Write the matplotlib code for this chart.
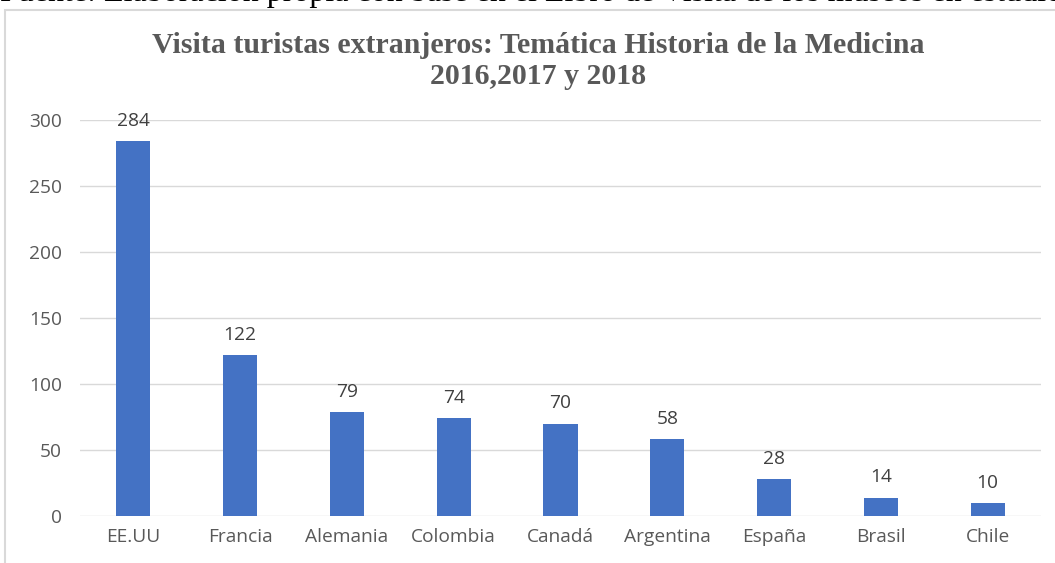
import matplotlib.pyplot as plt
from matplotlib.patches import Rectangle

paises = ["EE.UU", "Francia", "Alemania", "Colombia", "Canadá",
          "Argentina", "España", "Brasil", "Chile"]
visitas = [284, 122, 79, 74, 70, 58, 28, 14, 10]
yticks = [0, 50, 100, 150, 200, 250, 300]

titulo = "Visita turistas extranjeros: Temática Historia de la Medicina\n2016,2017 y 2018"
fuente = "Fuente: Elaboración propia con base en el Libro de Visita de los museos en estudio"

gris = "#595959"
azul = "#4472c4"

fig = plt.figure(figsize=(10.55, 5.63), dpi=100)

# marco del grafico (recortado en la pagina)
fig.patches.append(Rectangle((5 / 1055, -0.05), 1.2, 1 - 10 / 563 + 0.05,
                             transform=fig.transFigure, fill=False,
                             edgecolor="#d9d9d9", linewidth=1.5))

# texto de la pagina cortado arriba
fig.text(0.0, 1 - 1 / 563, fuente, family="Liberation Serif", fontsize=23,
         va="baseline", ha="left", color="black")

ax = fig.add_axes([80 / 1055, 1 - 516 / 563, (1041 - 80) / 1055, (516 - 120) / 563])
x = range(len(paises))
bars = ax.bar(x, visitas, width=0.32, color=azul, zorder=3)

ax.set_ylim(0, 300)
ax.set_xlim(-0.5, len(paises) - 0.5)
ax.set_yticks(yticks)
ax.set_xticks(list(x))
ax.set_xticklabels(paises)
ax.grid(axis="y", color="#d9d9d9", linewidth=1, zorder=0)
for s in ax.spines.values():
    s.set_visible(False)
ax.tick_params(length=0, labelsize=13.8, labelcolor=gris, pad=9)
ax.tick_params(axis="y", pad=13)
for lab in ax.get_xticklabels() + ax.get_yticklabels():
    lab.set_family("Open Sans")

for b, v in zip(bars, visitas):
    ax.annotate(str(v), (b.get_x() + b.get_width() / 2, v), xytext=(0, 8),
                textcoords="offset points", ha="center", va="bottom",
                fontsize=13.8, color="#404040", family="Open Sans")

fig.text(538 / 1055, 1 - 61 / 563, titulo, ha="center", va="center",
         family="Liberation Serif", fontweight="bold", fontsize=21.5,
         color=gris, linespacing=1.15)

fig.savefig("out.png", dpi=100)
